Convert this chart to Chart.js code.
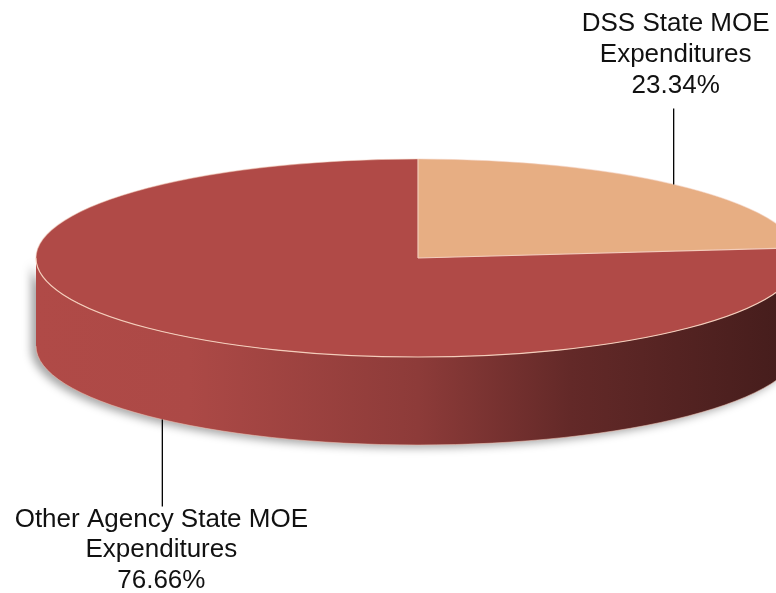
<!DOCTYPE html>
<html>
<head>
<meta charset="utf-8">
<script src="https://cdn.jsdelivr.net/npm/chart.js@4/dist/chart.umd.min.js"></script>
<style>
  html, body { margin: 0; padding: 0; background: #fff; }
  #mycanvas { display: block; }
</style>
</head>
<body>
<canvas id="mycanvas" width="776" height="593"></canvas>
<script>
// slice data
const categories = ['DSS State MOE Expenditures', 'Other Agency State MOE Expenditures'];
const shares = [23.34, 76.66];
const labelLines = [['DSS State MOE', 'Expenditures'], ['Other Agency State MOE', 'Expenditures']];
const sliceColors = ['#E7AE83', '#B04A47'];

// ellipse geometry of the tilted pie
const CX = 418, CY = 258, RX = 382, RY = 99, DEPTH = 88;

const shade = (hex, f) => {
    const n = parseInt(hex.slice(1), 16);
    const r = Math.round(((n >> 16) & 255) * f);
    const g = Math.round(((n >> 8) & 255) * f);
    const b = Math.round((n & 255) * f);
    return `rgb(${r},${g},${b})`;
};

// visible (front) parts of an angle range, in canvas angles
const frontParts = (a, b) => {
    const out = [];
    for (let k = -1; k <= 1; k++) {
        const s = Math.max(a + k * 2 * Math.PI, 0);
        const e = Math.min(b + k * 2 * Math.PI, Math.PI);
        if (e > s) out.push([s, e]);
    }
    return out;
};

const pie3d = {
    id: 'pie3d',
    beforeDatasetsDraw: chart => {
        const ctx = chart.ctx;
        const meta = chart.getDatasetMeta(0);
        // side walls
        meta.data.forEach((arc, i) => {
            const grad = ctx.createLinearGradient(CX - RX, 0, CX + RX, 0);
            grad.addColorStop(0, shade(sliceColors[i], 1.0));
            grad.addColorStop(0.2, shade(sliceColors[i], 0.98));
            grad.addColorStop(0.5, shade(sliceColors[i], 0.8));
            grad.addColorStop(0.7, shade(sliceColors[i], 0.56));
            grad.addColorStop(1, shade(sliceColors[i], 0.38));
            frontParts(arc.startAngle, arc.endAngle).forEach(([s, e]) => {
                ctx.save();
                ctx.beginPath();
                ctx.ellipse(CX, CY, RX, RY, 0, s, e);
                ctx.ellipse(CX, CY + DEPTH, RX, RY, 0, e, s, true);
                ctx.closePath();
                ctx.shadowColor = 'rgba(0,0,0,0.35)';
                ctx.shadowBlur = 9;
                ctx.shadowOffsetX = -5;
                ctx.shadowOffsetY = 3;
                ctx.fillStyle = grad;
                ctx.fill();
                ctx.restore();
                // light edge along the bottom
                ctx.save();
                ctx.beginPath();
                ctx.ellipse(CX, CY + DEPTH, RX, RY, 0, s, e);
                ctx.strokeStyle = 'rgba(240,195,180,0.55)';
                ctx.lineWidth = 1;
                ctx.stroke();
                ctx.restore();
            });
        });
        // squash the library's circle into the top ellipse
        const a0 = meta.data[0];
        const k = RX / a0.outerRadius;
        ctx.save();
        ctx.translate(CX, CY);
        ctx.scale(k, k * RY / RX);
        ctx.translate(-a0.x, -a0.y);
    },
    afterDatasetsDraw: chart => {
        const ctx = chart.ctx;
        ctx.restore();
        const meta = chart.getDatasetMeta(0);

        // slice boundaries and front rim highlight
        ctx.save();
        ctx.strokeStyle = '#F4CDBB';
        ctx.lineWidth = 1.2;
        meta.data.forEach(arc => {
            ctx.beginPath();
            ctx.moveTo(CX, CY);
            ctx.lineTo(CX + RX * Math.cos(arc.startAngle), CY + RY * Math.sin(arc.startAngle));
            ctx.stroke();
        });
        ctx.beginPath();
        ctx.ellipse(CX, CY, RX, RY, 0, 0, Math.PI);
        ctx.stroke();
        ctx.strokeStyle = 'rgba(244,205,187,0.5)';
        ctx.beginPath();
        ctx.ellipse(CX, CY, RX, RY, 0, Math.PI, 2 * Math.PI);
        ctx.stroke();
        ctx.restore();

        // leader lines and labels
        ctx.save();
        ctx.font = '26px "Liberation Sans", Arial, sans-serif';
        ctx.fillStyle = '#111';
        ctx.strokeStyle = '#000';
        ctx.lineWidth = 1.3;
        ctx.textAlign = 'center';
        ctx.textBaseline = 'alphabetic';
        meta.data.forEach((arc, i) => {
            const mid = (arc.startAngle + arc.endAngle) / 2;
            const px = CX + RX * Math.cos(mid);
            const py = CY + RY * Math.sin(mid);
            const lines = labelLines[i].concat([shares[i].toFixed(2) + '%']);
            ctx.beginPath();
            if (Math.sin(mid) < 0) {
                const top = py - 76;
                ctx.moveTo(px, py);
                ctx.lineTo(px, top);
                ctx.stroke();
                lines.forEach((t, j) => {
                    ctx.fillText(t, px + 2, top - 15 - (lines.length - 1 - j) * 31);
                });
            } else {
                const y0 = py + DEPTH;
                const end = y0 + 87;
                ctx.moveTo(px, y0);
                ctx.lineTo(px, end);
                ctx.stroke();
                lines.forEach((t, j) => {
                    ctx.fillText(t, px - 1, end + 20 + j * 30.5);
                });
            }
        });
        ctx.restore();
    }
};

new Chart(document.getElementById('mycanvas').getContext('2d'), {
    type: 'pie',
    data: {
        labels: categories,
        datasets: [{
            data: shares,
            backgroundColor: sliceColors,
            borderWidth: 0,
        }]
    },
    options: {
        responsive: false,
        animation: false,
        events: [],
        layout: { padding: 0 },
        plugins: {
            legend: { display: false },
            tooltip: { enabled: false },
        },
    },
    plugins: [pie3d],
});
</script>
</body>
</html>
